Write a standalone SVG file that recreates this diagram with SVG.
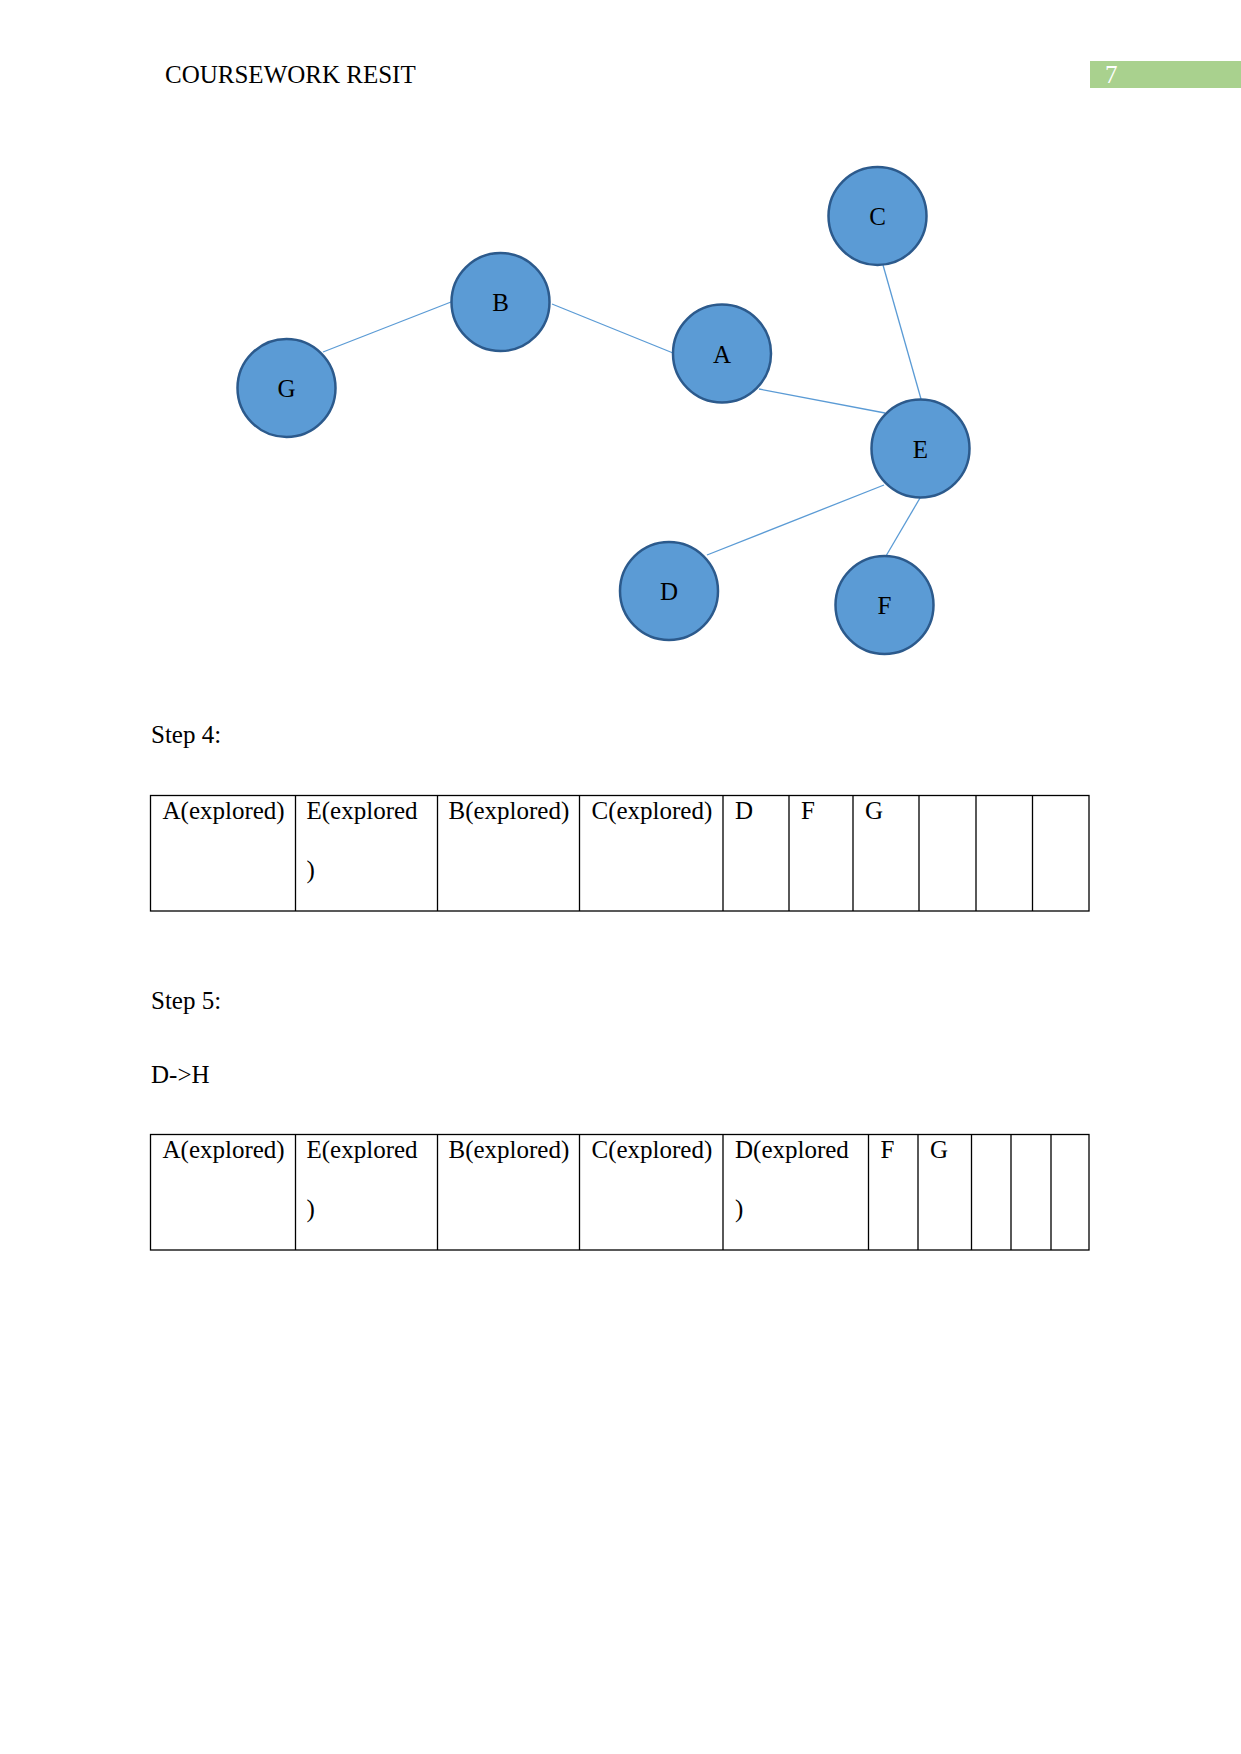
<svg xmlns="http://www.w3.org/2000/svg" width="1241" height="1754" viewBox="0 0 1241 1754">
<style>
text{font-family:"Liberation Serif","Times New Roman",serif;font-size:25px;fill:#000}
.node circle{fill:#5B9BD5;stroke:#2C5A8C;stroke-width:2.5}
.node text{text-anchor:middle}
.edge{stroke:#5B9BD5;stroke-width:1.3;fill:none}
.grid{stroke:#000;stroke-width:1.3;fill:none}
</style>
<rect width="1241" height="1754" fill="#fff"/>
<g id="header">
<text x="165" y="83">COURSEWORK RESIT</text>
<rect x="1090" y="61" width="151" height="27" fill="#A9D18E"/>
<text x="1105" y="83" style="fill:#fff">7</text>
</g>
<g id="connectors">
<line class="edge" x1="323" y1="352" x2="451" y2="302"/>
<line class="edge" x1="552" y1="304" x2="673" y2="353"/>
<line class="edge" x1="883" y1="265" x2="921" y2="399"/>
<line class="edge" x1="759" y1="389" x2="885" y2="413"/>
<line class="edge" x1="884" y1="485" x2="707" y2="555"/>
<line class="edge" x1="920" y1="498" x2="886" y2="556"/>
</g>
<g id="node-G" class="node"><circle cx="286.5" cy="388" r="49"/><text x="286.5" y="397">G</text></g>
<g id="node-B" class="node"><circle cx="500.5" cy="302" r="49"/><text x="500.5" y="311">B</text></g>
<g id="node-A" class="node"><circle cx="722" cy="353.5" r="49"/><text x="722" y="362.5">A</text></g>
<g id="node-C" class="node"><circle cx="877.5" cy="216" r="49"/><text x="877.5" y="225">C</text></g>
<g id="node-E" class="node"><circle cx="920.5" cy="448.5" r="49"/><text x="920.5" y="457.5">E</text></g>
<g id="node-D" class="node"><circle cx="669" cy="591" r="49"/><text x="669" y="600">D</text></g>
<g id="node-F" class="node"><circle cx="884.5" cy="605" r="49"/><text x="884.5" y="614">F</text></g>
<g id="step4">
<text x="151" y="743">Step 4:</text>
<rect class="grid" x="150.5" y="795.5" width="938.5" height="115.5"/>
<path class="grid" d="M295.5 795.5V911M437.5 795.5V911M579.5 795.5V911M723 795.5V911M789 795.5V911M853 795.5V911M919 795.5V911M976 795.5V911M1032.5 795.5V911"/>
<text x="162.5" y="819">A(explored)</text>
<text x="306.5" y="819">E(explored</text>
<text x="306.5" y="878">)</text>
<text x="448.5" y="819">B(explored)</text>
<text x="591.5" y="819">C(explored)</text>
<text x="735" y="819">D</text>
<text x="801" y="819">F</text>
<text x="865" y="819">G</text>
</g>
<g id="step5">
<text x="151" y="1009">Step 5:</text>
<text x="151" y="1083">D-&gt;H</text>
<rect class="grid" x="150.5" y="1134.5" width="938.5" height="115.5"/>
<path class="grid" d="M295.5 1134.5V1250M437.5 1134.5V1250M579.5 1134.5V1250M723 1134.5V1250M868.5 1134.5V1250M918 1134.5V1250M971.5 1134.5V1250M1011 1134.5V1250M1051 1134.5V1250"/>
<text x="162.5" y="1158">A(explored)</text>
<text x="306.5" y="1158">E(explored</text>
<text x="306.5" y="1217">)</text>
<text x="448.5" y="1158">B(explored)</text>
<text x="591.5" y="1158">C(explored)</text>
<text x="735" y="1158">D(explored</text>
<text x="735" y="1217">)</text>
<text x="880.5" y="1158">F</text>
<text x="930" y="1158">G</text>
</g>
</svg>
